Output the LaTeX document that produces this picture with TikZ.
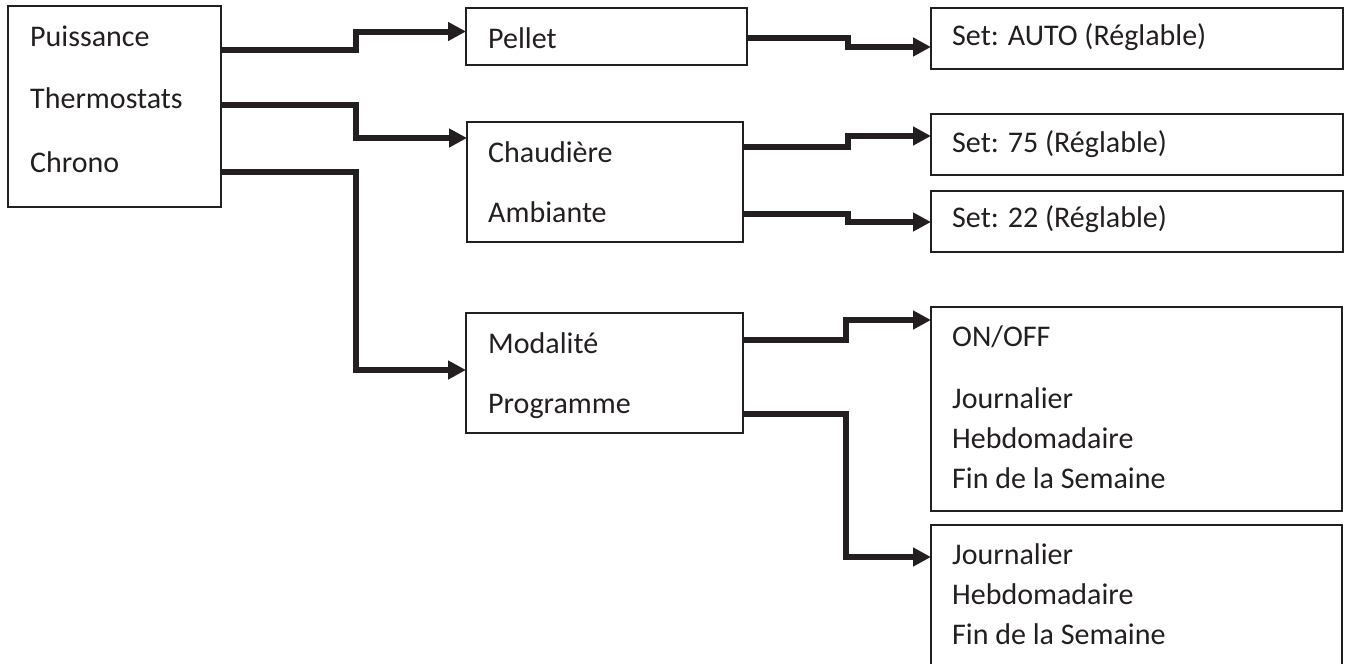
\documentclass[tikz,border=0pt]{standalone}
\usepackage{fontspec}
\setmainfont{Carlito}
\usetikzlibrary{arrows.meta}
\definecolor{ink}{HTML}{231F20}
\tikzset{
  box/.style={draw=ink, line width=1.4pt, anchor=north west, inner sep=0pt, outer sep=0pt},
  lbl/.style={anchor=base west, inner sep=0pt, text=ink, font=\fontsize{30}{36}\selectfont},
  conn/.style={draw=ink, line width=6pt, line join=miter, -{Triangle[length=18pt,width=18pt]}}
}
\begin{document}
\begin{tikzpicture}[x=1pt,y=-1pt]
\clip (0,0) rectangle (1347,664);
% boxes
\node[box, minimum width=213pt, minimum height=201pt] (A) at (8,6) {};
\node[box, minimum width=281pt, minimum height=57pt] (pellet) at (466,8) {};
\node[box, minimum width=276pt, minimum height=120pt] (chaud) at (467,122) {};
\node[box, minimum width=277pt, minimum height=120pt] (modal) at (466,313) {};
\node[box, minimum width=412pt, minimum height=61pt] (auto) at (931,8) {};
\node[box, minimum width=412pt, minimum height=61pt] (s75) at (931,114) {};
\node[box, minimum width=412pt, minimum height=61pt] (s22) at (931,191) {};
\node[box, minimum width=411pt, minimum height=204pt] (onoff) at (931,307) {};
\node[box, minimum width=411pt, minimum height=170pt] (prog) at (931,525) {};
% texts
\node[lbl] (t1) at (30,46) {Puissance};
\node[lbl] (t2) at (30,108) {Thermostats};
\node[lbl] (t3) at (30,172) {Chrono};
\node[lbl] (t4) at (488,48) {Pellet};
\node[lbl] (t5) at (488,162) {Chaudière};
\node[lbl] (t6) at (488,222) {Ambiante};
\node[lbl] (t7) at (488,353) {Modalité};
\node[lbl] (t8) at (488,413) {Programme};
\node[lbl] (t9) at (952,45) {Set: AUTO (Réglable)};
\node[lbl] (t10) at (952,152) {Set: 75 (Réglable)};
\node[lbl] (t11) at (952,227) {Set: 22 (Réglable)};
\node[lbl] (t12) at (952,346) {ON/OFF};
\node[lbl] (t13) at (952,408) {Journalier};
\node[lbl] (t14) at (952,448) {Hebdomadaire};
\node[lbl] (t15) at (952,488) {Fin de la Semaine};
\node[lbl] (t16) at (952,564) {Journalier};
\node[lbl] (t17) at (952,604) {Hebdomadaire};
\node[lbl] (t18) at (952,644) {Fin de la Semaine};
% connectors
\draw[conn] (A.east |- 0,49.5) -| (356,40) |- (pellet.west |- 0,31.5);
\draw[conn] (A.east |- 0,104.5) -| (356,120) |- (chaud.west |- 0,138);
\draw[conn] (A.east |- 0,172) -| (356,300) |- (modal.west |- 0,370);
\draw[conn] (pellet.east |- 0,37.5) -| (848,42) |- (auto.west |- 0,47);
\draw[conn] (chaud.east |- 0,146.5) -| (848,140) |- (s75.west |- 0,136);
\draw[conn] (chaud.east |- 0,213.5) -| (848,218) |- (s22.west |- 0,222);
\draw[conn] (modal.east |- 0,339.5) -| (846,330) |- (onoff.west |- 0,320);
\draw[conn] (modal.east |- 0,413.5) -| (846,500) |- (prog.west |- 0,557);
\end{tikzpicture}
\end{document}
